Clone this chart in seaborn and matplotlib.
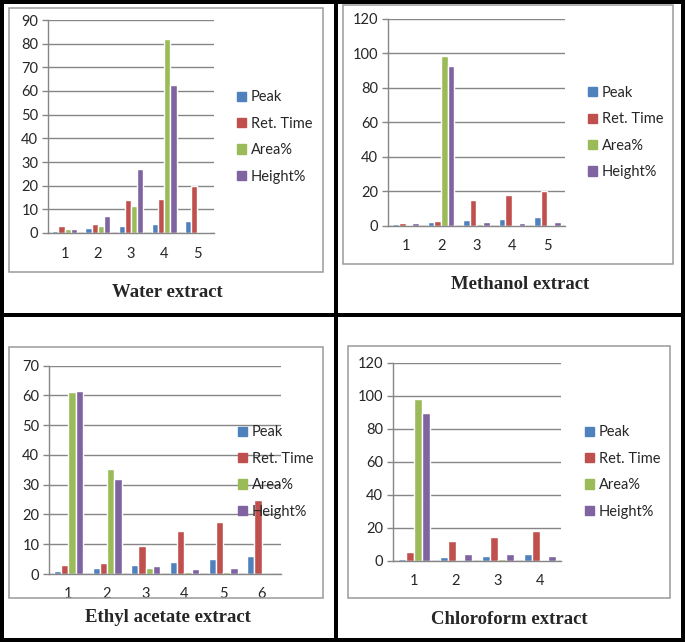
import numpy as np
import pandas as pd
import matplotlib
matplotlib.use('Agg')
import matplotlib.pyplot as plt
import seaborn as sns
from matplotlib.patches import Rectangle
from matplotlib.lines import Line2D

series = ['Peak', 'Ret. Time', 'Area%', 'Height%']
colors = ['#4F81BD', '#C0504D', '#9BBB59', '#8064A2']

# water extract
water_peak = [1, 2, 3, 4, 5]
water_ret = [3.0, 3.6, 14.0, 14.4, 19.8]
water_area = [1.6, 3.0, 11.6, 82.0, 0.3]
water_height = [1.9, 7.2, 27.0, 62.6, 0.3]

# methanol extract
meth_peak = [1, 2, 3, 4, 5]
meth_ret = [1.5, 2.6, 14.6, 17.9, 20.0]
meth_area = [0.1, 98.3, 0.6, 0.1, 0.1]
meth_height = [1.6, 92.7, 2.3, 1.2, 2.3]

# ethyl acetate extract
ethyl_peak = [1, 2, 3, 4, 5, 6]
ethyl_ret = [3.1, 3.8, 9.3, 14.5, 17.6, 25.0]
ethyl_area = [61.0, 35.4, 2.0, 0.6, 0.8, 0.1]
ethyl_height = [61.6, 31.8, 2.6, 1.8, 1.9, 0.1]

# chloroform extract
chloro_peak = [1, 2, 3, 4]
chloro_ret = [4.9, 11.8, 14.4, 18.1]
chloro_area = [97.6, 0.6, 0.8, 0.5]
chloro_height = [89.4, 3.7, 3.8, 2.8]

W, H = 685, 642
GRID = '#868686'

sns.set_style('white')
plt.rcParams['font.family'] = ['Lato', 'DejaVu Sans']

fig = plt.figure(figsize=(W / 100, H / 100), dpi=100)


def fx(x):
    return x / W


def fy(y):
    return 1 - y / H


def add_axes(left, top, right, bottom):
    # pixel box -> figure fraction
    return fig.add_axes([fx(left), fy(bottom), (right - left) / W, (bottom - top) / H])


def draw_panel(ax, peaks, ret, area, height, ymax, ystep, xpad):
    df = pd.DataFrame({'peak': peaks, 'Peak': peaks, 'Ret. Time': ret,
                       'Area%': area, 'Height%': height})
    long_df = df.melt(id_vars='peak', value_vars=series, var_name='series', value_name='value')
    sns.barplot(data=long_df, x='peak', y='value', hue='series', hue_order=series,
                palette=colors, saturation=1, width=0.75, errorbar=None, legend=False, ax=ax)
    n = len(peaks)
    ax.set_ylim(0, ymax)
    ax.set_yticks(np.arange(0, ymax + 1, ystep))
    ax.set_xlim(-0.5, n - 0.5)
    ax.set_xticks(np.arange(-0.5, n), minor=True)
    ax.yaxis.grid(True, color=GRID, lw=1)
    ax.set_axisbelow(True)
    ax.tick_params(axis='x', which='major', length=0, labelsize=10.5, pad=xpad)
    ax.tick_params(axis='x', which='minor', length=4, color=GRID, width=1)
    ax.tick_params(axis='y', length=4, color=GRID, width=1, labelsize=10.5, pad=3, left=True)
    for s in ['top', 'right']:
        ax.spines[s].set_visible(False)
    for s in ['left', 'bottom']:
        ax.spines[s].set_color(GRID)
        ax.spines[s].set_linewidth(1)
    ax.set_xlabel('')
    ax.set_ylabel('')
    ax.patch.set_alpha(0)


def add_legend(x, yc):
    handles = [Rectangle((0, 0), 1, 1, color=c) for c in colors]
    fig.legend(handles, series, loc='center left', bbox_to_anchor=(fx(x), fy(yc)),
               frameon=False, fontsize=10.5, handlelength=0.6, handleheight=0.6,
               handletextpad=0.35, labelspacing=0.85, borderpad=0, borderaxespad=0)


def add_box(left, top, right, bottom, color, lw):
    fig.add_artist(Rectangle((fx(left), fy(bottom)), (right - left) / W, (bottom - top) / H,
                             transform=fig.transFigure, fill=False, edgecolor=color, lw=lw, zorder=5))


def add_title(x, y, text):
    fig.text(fx(x), fy(y), text, ha='center', va='center', fontsize=13.5,
             fontweight='bold', family='Liberation Serif')


# chart area boxes
add_box(9, 8, 323, 272, '#9A9A9A', 1.1)
add_box(343, 5, 673, 264, '#9A9A9A', 1.1)
add_box(9, 347, 323, 598, '#9A9A9A', 1.1)
add_box(348, 346, 670, 598, '#9A9A9A', 1.1)

ax1 = add_axes(48, 20, 214, 233)
draw_panel(ax1, water_peak, water_ret, water_area, water_height, 90, 10, 10)
add_legend(237, 137)
add_title(167, 292, 'Water extract')

ax2 = add_axes(388, 19, 565, 225.5)
draw_panel(ax2, meth_peak, meth_ret, meth_area, meth_height, 120, 20, 10)
add_legend(588, 132.5)
add_title(520, 284, 'Methanol extract')

ax3 = add_axes(49, 365.5, 281, 574)
draw_panel(ax3, ethyl_peak, ethyl_ret, ethyl_area, ethyl_height, 70, 10, 9)
add_legend(238, 472)
add_title(168, 618, 'Ethyl acetate extract')

ax4 = add_axes(393, 362.5, 561, 560.5)
draw_panel(ax4, chloro_peak, chloro_ret, chloro_area, chloro_height, 120, 20, 10)
add_legend(585, 472)
add_title(509, 619, 'Chloroform extract')

# black panel frames
lw = 4 * 72 / 100
fig.add_artist(Rectangle((fx(2), fy(640)), (681) / W, (638) / H, transform=fig.transFigure,
                         fill=False, edgecolor='black', lw=lw, zorder=6))
fig.add_artist(Line2D([fx(335.5), fx(335.5)], [0, 1], transform=fig.transFigure,
                      color='black', lw=lw, zorder=6))
fig.add_artist(Line2D([0, 1], [fy(314.5), fy(314.5)], transform=fig.transFigure,
                      color='black', lw=lw, zorder=6))

fig.savefig('out.png', dpi=100, facecolor='white')
